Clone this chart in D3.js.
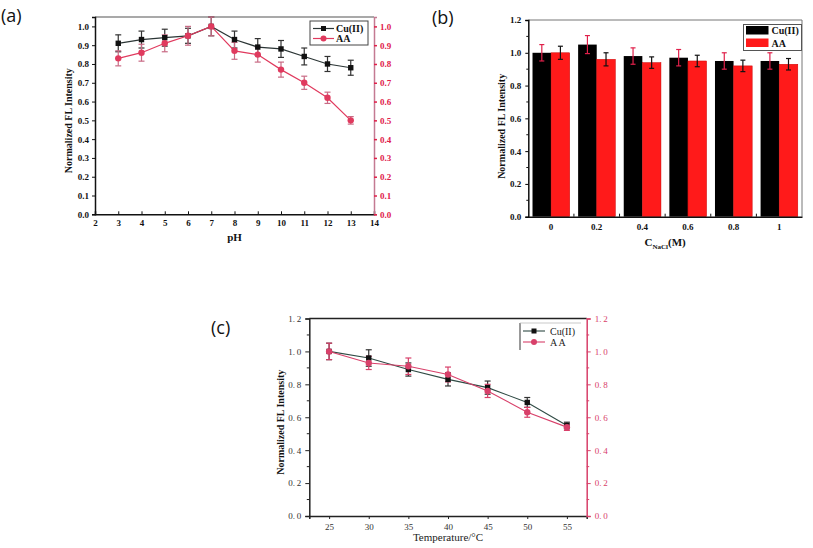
<!DOCTYPE html>
<html><head><meta charset="utf-8">
<script src="https://cdn.jsdelivr.net/npm/d3@7/dist/d3.min.js"></script>
<style>
body{margin:0;background:#fff;}
svg{display:block;}
text{font-family:"Liberation Serif","Times New Roman",serif;}
</style></head>
<body>
<svg id="c" width="813" height="548"></svg>
<script>
// ---- Panel (a): pH ----
const phX = [3,4,5,6,7,8,9,10,11,12,13];
const phCu = [0.91,0.93,0.94,0.95,1.00,0.93,0.89,0.88,0.84,0.80,0.78];
const phCuErr = [0.045,0.045,0.045,0.04,0.05,0.045,0.045,0.045,0.045,0.04,0.04];
const phAA = [0.83,0.86,0.91,0.95,1.00,0.87,0.85,0.77,0.70,0.62,0.50];
const phAAErr = [0.04,0.045,0.045,0.05,0.05,0.045,0.04,0.04,0.035,0.03,0.02];
const phXTicks = [2,3,4,5,6,7,8,9,10,11,12,13,14];
const phYTicks = [0,0.1,0.2,0.3,0.4,0.5,0.6,0.7,0.8,0.9,1.0];

// ---- Panel (b): NaCl ----
const naclCats = ["0","0.2","0.4","0.6","0.8","1"];
const naclCu = [1.00,1.05,0.98,0.97,0.95,0.95];
const naclCuErr = [0.05,0.055,0.05,0.05,0.05,0.05];
const naclAA = [1.00,0.96,0.94,0.95,0.92,0.93];
const naclAAErr = [0.04,0.04,0.035,0.035,0.035,0.035];
const naclYTicks = [0,0.2,0.4,0.6,0.8,1.0,1.2];

// ---- Panel (c): Temperature ----
const tX = [25,30,35,40,45,50,55];
const tCu = [1.00,0.96,0.89,0.83,0.78,0.69,0.55];
const tCuErr = [0.05,0.05,0.04,0.04,0.04,0.03,0.02];
const tAA = [1.00,0.93,0.91,0.86,0.76,0.63,0.54];
const tAAErr = [0.05,0.04,0.05,0.045,0.04,0.03,0.02];
const tYTicks = [0,0.2,0.4,0.6,0.8,1.0,1.2];

const seriesNames = ["Cu(II)","AA"];

const svg = d3.select("#c");

function panelLabel(txt,x,y){
  svg.append("text").attr("x",x).attr("y",y).text(txt)
    .style("font-family","'Open Sans','DejaVu Sans',sans-serif").style("font-size","18px").attr("fill","#111");
}

function errBars(g, xs, ys, es, x, y, color, cap){
  const d = xs.map((v,i)=>({x:v,y:ys[i],e:es[i]}));
  const eg = g.append("g");
  eg.selectAll("line.v").data(d).join("line")
    .attr("x1",d=>x(d.x)).attr("x2",d=>x(d.x))
    .attr("y1",d=>y(d.y-d.e)).attr("y2",d=>y(d.y+d.e))
    .attr("stroke",color).attr("stroke-width",1.2);
  [1,-1].forEach(s=>{
    eg.selectAll("line.c"+s).data(d).join("line")
      .attr("x1",d=>x(d.x)-cap).attr("x2",d=>x(d.x)+cap)
      .attr("y1",d=>y(d.y+s*d.e)).attr("y2",d=>y(d.y+s*d.e))
      .attr("stroke",color).attr("stroke-width",1.2);
  });
}

// ================= Panel (a) =================
(function(){
  const L=95,R=374,T=17,B=214.3;
  const x=d3.scaleLinear().domain([2,14]).range([L,R]);
  const y=d3.scaleLinear().domain([0,1.05]).range([B,T]);
  const g=svg.append("g");
  const cuCol="#2b3535", aaCol="#e03a5e";
  g.append("line").attr("x1",L).attr("x2",R).attr("y1",T).attr("y2",T).attr("stroke","#555").attr("stroke-width",1.2);
  const ax=g.append("g").attr("transform",`translate(0,${B})`)
    .call(d3.axisBottom(x).tickValues(phXTicks).tickSize(-3).tickPadding(5).tickFormat(d3.format("d")));
  const ay=g.append("g").attr("transform",`translate(${L},0)`)
    .call(d3.axisLeft(y).tickValues(phYTicks).tickSize(3).tickPadding(3).tickFormat(d3.format(".1f")));
  const ar=g.append("g").attr("transform",`translate(${R},0)`)
    .call(d3.axisRight(y).tickValues(phYTicks).tickSize(3).tickPadding(3).tickFormat(d3.format(".1f")));
  [ax,ay].forEach(a=>{a.select(".domain").attr("stroke","#111").attr("stroke-width",1.5);
    a.selectAll(".tick line").attr("stroke","#111");
    a.selectAll("text").style("font-size","9px").style("font-weight","bold").attr("fill","#111");});
  ar.select(".domain").attr("stroke","#c47a92").attr("stroke-width",1.5);
  ar.selectAll(".tick line").attr("stroke","#e0204a").attr("stroke-width",1.5);
  ar.selectAll("text").style("font-size","9px").style("font-weight","bold").attr("fill","#e0204a");
  const line=d3.line().x(d=>x(d[0])).y(d=>y(d[1]));
  errBars(g,phX,phCu,phCuErr,x,y,"#333",3);
  errBars(g,phX,phAA,phAAErr,x,y,"#c86a84",3);
  g.append("path").datum(phX.map((v,i)=>[v,phCu[i]])).attr("d",line).attr("fill","none").attr("stroke",cuCol).attr("stroke-width",1.2);
  g.append("path").datum(phX.map((v,i)=>[v,phAA[i]])).attr("d",line).attr("fill","none").attr("stroke",aaCol).attr("stroke-width",1.2);
  g.selectAll("rect.m").data(phX.map((v,i)=>[v,phCu[i]])).join("rect")
    .attr("x",d=>x(d[0])-2.7).attr("y",d=>y(d[1])-2.7).attr("width",5.4).attr("height",5.4).attr("fill","#111");
  g.selectAll("circle.m").data(phX.map((v,i)=>[v,phAA[i]])).join("circle")
    .attr("cx",d=>x(d[0])).attr("cy",d=>y(d[1])).attr("r",3.2).attr("fill",aaCol);
  const lg=g.append("g");
  lg.append("rect").attr("x",310).attr("y",21).attr("width",58).attr("height",24).attr("fill","#fff").attr("stroke","#444").attr("stroke-width",1);
  lg.append("line").attr("x1",313).attr("x2",334).attr("y1",28.5).attr("y2",28.5).attr("stroke",cuCol).attr("stroke-width",1.2);
  lg.append("rect").attr("x",321).attr("y",26).attr("width",5).attr("height",5).attr("fill","#111");
  lg.append("text").attr("x",336).attr("y",32).text(seriesNames[0]).style("font-size","10px").style("font-weight","bold").attr("fill","#111");
  lg.append("line").attr("x1",313).attr("x2",334).attr("y1",38.5).attr("y2",38.5).attr("stroke",aaCol).attr("stroke-width",1.2);
  lg.append("circle").attr("cx",323.5).attr("cy",38.5).attr("r",3).attr("fill",aaCol);
  lg.append("text").attr("x",336).attr("y",42).text(seriesNames[1]).style("font-size","10px").style("font-weight","bold").attr("fill","#111");
  g.append("text").attr("transform",`translate(72,${(T+B)/2+5}) rotate(-90)`).attr("text-anchor","middle")
    .text("Normalized FL Intensity").style("font-size","10px").style("font-weight","bold").attr("fill","#111");
  g.append("text").attr("x",(L+R)/2).attr("y",241).attr("text-anchor","middle").text("pH")
    .style("font-size","11px").style("font-weight","bold").attr("fill","#111");
})();
panelLabel("(a)",1,22);

// ================= Panel (b) =================
(function(){
  const L=528.3,R=802,T=20,B=216.7;
  const x=d3.scaleBand().domain(naclCats).range([L,R]).paddingInner(0).paddingOuter(0);
  const y=d3.scaleLinear().domain([0,1.2]).range([B,T]);
  const g=svg.append("g");
  const bw=18.6;
  g.append("line").attr("x1",L).attr("x2",R).attr("y1",T).attr("y2",T).attr("stroke","#777").attr("stroke-width",1);
  g.append("line").attr("x1",R).attr("x2",R).attr("y1",T).attr("y2",B).attr("stroke","#777").attr("stroke-width",1);
  g.selectAll("rect.cu").data(naclCats).join("rect")
    .attr("x",(d)=>x(d)+x.bandwidth()/2-bw).attr("width",bw)
    .attr("y",(d,i)=>y(naclCu[i])).attr("height",(d,i)=>B-y(naclCu[i])).attr("fill","#000");
  g.selectAll("rect.aa").data(naclCats).join("rect")
    .attr("x",(d)=>x(d)+x.bandwidth()/2).attr("width",bw)
    .attr("y",(d,i)=>y(naclAA[i])).attr("height",(d,i)=>B-y(naclAA[i])).attr("fill","#ff1a1a").attr("stroke","#c00").attr("stroke-width",0.5);
  const xc=d=>x(d)+x.bandwidth()/2-bw/2;
  const xa=d=>x(d)+x.bandwidth()/2+bw/2;
  errBars(g,naclCats,naclCu,naclCuErr,xc,y,"#e0204a",2.5);
  errBars(g,naclCats,naclAA,naclAAErr,xa,y,"#111",2.5);
  const ay=g.append("g").attr("transform",`translate(${L},0)`)
    .call(d3.axisLeft(y).tickValues(naclYTicks).tickSize(3).tickPadding(4).tickFormat(d3.format(".1f")));
  ay.selectAll(".minor").data(d3.range(0.1,1.2,0.2)).join("line").attr("class","minor")
    .attr("x1",0).attr("x2",-2).attr("y1",d=>y(d)).attr("y2",d=>y(d)).attr("stroke","#111");
  const ax=g.append("g").attr("transform",`translate(0,${B})`)
    .call(d3.axisBottom(x).tickSize(0).tickPadding(7));
  ax.selectAll(".sep").data(naclCats.slice(1)).join("line").attr("class","sep")
    .attr("x1",d=>x(d)).attr("x2",d=>x(d)).attr("y1",0).attr("y2",-3).attr("stroke","#111");
  [ax,ay].forEach(a=>{a.select(".domain").attr("stroke","#111").attr("stroke-width",1.5);
    a.selectAll("text").style("font-size","9px").style("font-weight","bold").attr("fill","#111");});
  const lg=g.append("g");
  lg.append("rect").attr("x",743.5).attr("y",24.5).attr("width",58).attr("height",26).attr("fill","#fff").attr("stroke","#555").attr("stroke-width",1);
  lg.append("rect").attr("x",746).attr("y",26).attr("width",22.5).attr("height",8.5).attr("fill","#000");
  lg.append("rect").attr("x",746).attr("y",38.5).attr("width",22.5).attr("height",8.5).attr("fill","#ff1a1a");
  lg.append("text").attr("x",771.5).attr("y",34).text(seriesNames[0]).style("font-size","10px").style("font-weight","bold").attr("fill","#111");
  lg.append("text").attr("x",771.5).attr("y",46.5).text(seriesNames[1]).style("font-size","10px").style("font-weight","bold").attr("fill","#111");
  g.append("text").attr("transform",`translate(505,${(T+B)/2+8}) rotate(-90)`).attr("text-anchor","middle")
    .text("Normalized FL Intensity").style("font-size","10px").style("font-weight","bold").attr("fill","#111");
  const xl=g.append("text").attr("x",(L+R)/2).attr("y",246).attr("text-anchor","middle")
    .style("font-size","11px").style("font-weight","bold").attr("fill","#111");
  xl.append("tspan").text("C");
  xl.append("tspan").text("NaCl").attr("dy",2.5).style("font-size","7px");
  xl.append("tspan").text("(M)").attr("dy",-2.5);
})();
panelLabel("(b)",432,24);

// ================= Panel (c) =================
(function(){
  const L=309.3,R=586.7,T=318.5,B=516;
  const x=d3.scaleLinear().domain([22.5,57.5]).range([L,R]);
  const y=d3.scaleLinear().domain([0,1.2]).range([B,T]);
  const g=svg.append("g");
  const cuCol="#2f4a44", aaCol="#d8406a";
  g.append("line").attr("x1",L).attr("x2",R).attr("y1",T).attr("y2",T).attr("stroke","#222").attr("stroke-width",1.5);
  const fmt=d=>d3.format(".1f")(d).replace(".",".\u2009");
  const ax=g.append("g").attr("transform",`translate(0,${B})`)
    .call(d3.axisBottom(x).tickValues(tX).tickSize(3).tickPadding(5).tickFormat(d3.format("d")));
  const ay=g.append("g").attr("transform",`translate(${L},0)`)
    .call(d3.axisLeft(y).tickValues(tYTicks).tickSize(4).tickPadding(4).tickFormat(fmt));
  ay.selectAll(".minor").data(d3.range(0.1,1.2,0.2)).join("line").attr("class","minor")
    .attr("x1",0).attr("x2",-2.5).attr("y1",d=>y(d)).attr("y2",d=>y(d)).attr("stroke","#222");
  const ar=g.append("g").attr("transform",`translate(${R},0)`)
    .call(d3.axisRight(y).tickValues(tYTicks).tickSize(4).tickPadding(4).tickFormat(fmt));
  ar.selectAll(".minor").data(d3.range(0.1,1.2,0.2)).join("line").attr("class","minor")
    .attr("x1",0).attr("x2",2.5).attr("y1",d=>y(d)).attr("y2",d=>y(d)).attr("stroke","#d8406a");
  [ax,ay].forEach(a=>{a.select(".domain").attr("stroke","#222").attr("stroke-width",1.5);
    a.selectAll(".tick line").attr("stroke","#222");
    a.selectAll("text").style("font-size","9px").attr("fill","#333");});
  ar.select(".domain").attr("stroke","#d8406a").attr("stroke-width",1.5);
  ar.selectAll(".tick line").attr("stroke","#d8406a");
  ar.selectAll("text").style("font-size","9px").attr("fill","#d8406a");
  const line=d3.line().x(d=>x(d[0])).y(d=>y(d[1]));
  errBars(g,tX,tCu,tCuErr,x,y,"#333",3);
  errBars(g,tX,tAA,tAAErr,x,y,"#d8406a",3);
  g.append("path").datum(tX.map((v,i)=>[v,tCu[i]])).attr("d",line).attr("fill","none").attr("stroke",cuCol).attr("stroke-width",1.1);
  g.append("path").datum(tX.map((v,i)=>[v,tAA[i]])).attr("d",line).attr("fill","none").attr("stroke",aaCol).attr("stroke-width",1.1);
  g.selectAll("rect.m").data(tX.map((v,i)=>[v,tCu[i]])).join("rect")
    .attr("x",d=>x(d[0])-2.7).attr("y",d=>y(d[1])-2.7).attr("width",5.4).attr("height",5.4).attr("fill","#111");
  g.selectAll("circle.m").data(tX.map((v,i)=>[v,tAA[i]])).join("circle")
    .attr("cx",d=>x(d[0])).attr("cy",d=>y(d[1])).attr("r",3.2).attr("fill",aaCol);
  const lg=g.append("g");
  lg.append("line").attr("x1",520).attr("x2",520).attr("y1",323).attr("y2",350).attr("stroke","#333").attr("stroke-width",1);
  lg.append("line").attr("x1",520).attr("x2",581).attr("y1",323).attr("y2",323).attr("stroke","#bbb").attr("stroke-width",0.8);
  lg.append("line").attr("x1",523).attr("x2",545).attr("y1",331).attr("y2",331).attr("stroke",cuCol).attr("stroke-width",1.1);
  lg.append("rect").attr("x",531.5).attr("y",328.5).attr("width",5).attr("height",5).attr("fill","#111");
  lg.append("text").attr("x",550).attr("y",335).text(seriesNames[0]).style("font-size","10px").attr("fill","#222");
  lg.append("line").attr("x1",523).attr("x2",545).attr("y1",342).attr("y2",342).attr("stroke",aaCol).attr("stroke-width",1.1);
  lg.append("circle").attr("cx",534).attr("cy",342).attr("r",3).attr("fill",aaCol);
  lg.append("text").attr("x",550).attr("y",346).text("A A").style("font-size","10px").attr("fill","#222");
  g.append("text").attr("transform",`translate(284,${(T+B)/2+5}) rotate(-90)`).attr("text-anchor","middle")
    .text("Normalized FL Intensity").style("font-size","10px").style("font-weight","bold").attr("fill","#111");
  g.append("text").attr("x",(L+R)/2).attr("y",541).attr("text-anchor","middle").text("Temperature/°C")
    .style("font-size","11px").attr("fill","#222");
})();
panelLabel("(c)",211,334);
</script>
</body></html>
